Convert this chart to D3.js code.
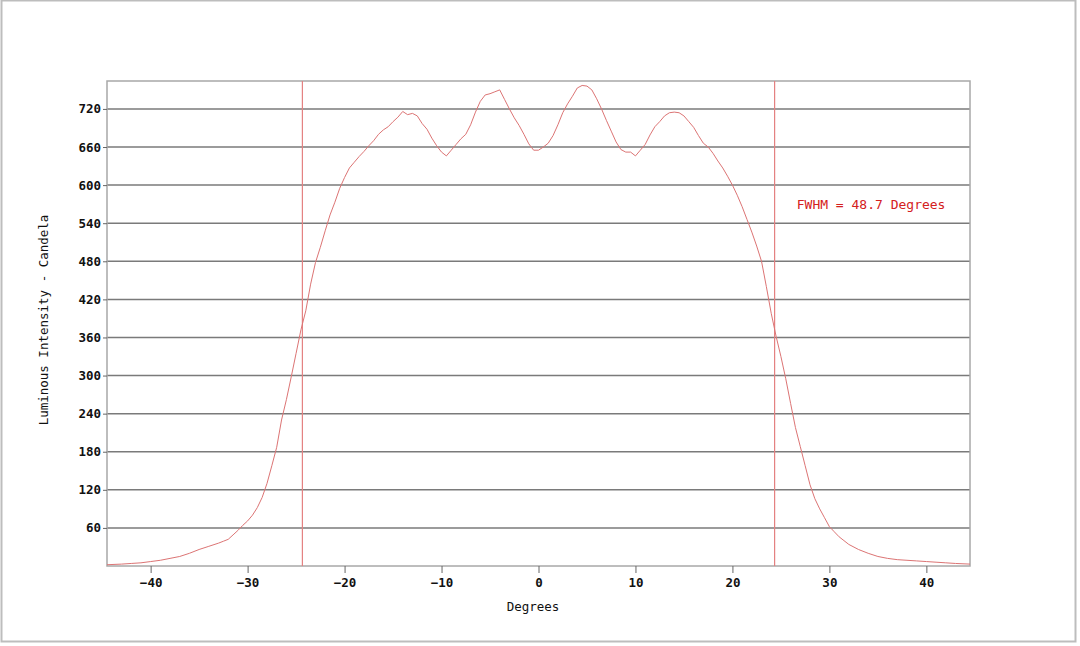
<!DOCTYPE html>
<html>
<head>
<meta charset="utf-8">
<script src="https://cdn.jsdelivr.net/npm/d3@7"></script>
<style>
  body { margin: 0; background: #fff; }
  svg { display: block; font-family: "DejaVu Sans Mono", monospace; }
</style>
</head>
<body>
<div id="chart"></div>
<script>
// Beam angle profile, luminous intensity vs. angle
var degrees = [-44.5, -43, -42, -41, -40, -39, -38, -37, -36, -35, -34, -33, -32.5, -32, -31.5, -31, -30.5, -30,
  -29.5, -29, -28.5, -28, -27.5, -27, -26.5, -26, -25.5, -25, -24.5, -24, -23.5, -23, -22.5, -22, -21.5, -21,
  -20.5, -20, -19.5, -19, -18.5, -18, -17.5, -17, -16.5, -16, -15.5, -15, -14.5, -14, -13.5, -13, -12.5, -12,
  -11.5, -11, -10.5, -10, -9.5, -9, -8.5, -8, -7.5, -7, -6.5, -6, -5.5, -5, -4.5, -4, -3.5, -3, -2.5, -2,
  -1.5, -1, -0.5, 0, 0.5, 1, 1.5, 2, 2.5, 3, 3.5, 4, 4.5, 5, 5.5, 6, 6.5, 7, 7.5, 8, 8.5, 9, 9.5, 10,
  10.5, 11, 11.5, 12, 12.5, 13, 13.5, 14, 14.5, 15, 15.5, 16, 16.5, 17, 17.5, 18, 18.5, 19, 19.5, 20,
  20.5, 21, 21.5, 22, 22.5, 23, 23.5, 24, 24.5, 25, 25.5, 26, 26.5, 27, 27.5, 28, 28.5, 29, 29.5, 30,
  30.5, 31, 31.5, 32, 33, 34, 35, 36, 37, 38, 39, 40, 41, 42, 43, 44.5];

var candela = [2, 3, 4, 5, 7, 9, 12, 15, 20, 26, 31, 36, 39, 42, 49, 56, 64, 71,
  80, 92, 108, 130, 158, 187, 230, 262, 298, 335, 372, 402, 444, 478, 502, 528, 553, 573,
  595, 612, 627, 636, 645, 653, 662, 670, 680, 687, 692, 700, 707, 716, 711, 713, 709, 697,
  688, 674, 662, 652, 646, 655, 664, 673, 680, 695, 715, 732, 742, 744, 747, 750, 735, 720, 706, 694,
  680, 665, 655, 655, 660, 666, 678, 695, 714, 728, 740, 753, 757, 756, 750, 736, 720, 702, 685, 668, 656, 652, 652, 646,
  655, 664, 679, 692, 700, 709, 714, 715, 714, 709, 700, 691, 678, 666, 660, 650, 638, 627, 614, 600,
  584, 566, 546, 526, 504, 480, 440, 398, 362, 330, 295, 256, 218, 188, 158, 128, 106, 90, 76, 62,
  54, 46, 40, 34, 26, 20, 15, 12, 10, 9, 8, 7, 6, 5, 4, 3];

var yTicks = [60, 120, 180, 240, 300, 360, 420, 480, 540, 600, 660, 720];
var xTicks = [-40, -30, -20, -10, 0, 10, 20, 30, 40];
var fwhmLines = [-24.35, 24.35];
var fwhmLabel = "FWHM = 48.7 Degrees";

var data = degrees.map(function(d, i) { return {deg: d, val: candela[i]}; });

var W = 1080, H = 646;
var margin = {top: 81, right: 110, bottom: 80, left: 107},
    width = W - margin.left - margin.right,
    height = H - margin.top - margin.bottom;

var svg = d3.select("#chart").append("svg")
    .attr("width", W)
    .attr("height", H);

// outer frame
svg.append("rect")
    .attr("x", 1.5).attr("y", 0.5)
    .attr("width", 1074).attr("height", 641)
    .attr("fill", "none")
    .attr("stroke", "#bdbdbd")
    .attr("stroke-width", 2);

var g = svg.append("g")
    .attr("transform", "translate(" + margin.left + "," + margin.top + ")");

var x = d3.scaleLinear().domain([-44.5, 44.5]).range([0, width]);
var y = d3.scaleLinear().domain([0, 764]).range([height, 0]);

// grid lines
g.append("g")
    .selectAll("line")
    .data(yTicks)
  .enter().append("line")
    .attr("x1", 0).attr("x2", width)
    .attr("y1", function(d) { return y(d); })
    .attr("y2", function(d) { return y(d); })
    .attr("stroke", "#7a7a7a")
    .attr("stroke-width", 1.5);

// plot frame
g.append("rect")
    .attr("width", width).attr("height", height)
    .attr("fill", "none")
    .attr("stroke", "#a8a8a8")
    .attr("stroke-width", 1.5);

var yAxis = d3.axisLeft(y).tickValues(yTicks).tickSize(4).tickPadding(2);
var xAxis = d3.axisBottom(x).tickValues(xTicks).tickSize(7).tickPadding(5);

var ya = g.append("g").call(yAxis);
var xa = g.append("g").attr("transform", "translate(0," + height + ")").call(xAxis);

[ya, xa].forEach(function(a) {
  a.select(".domain").remove();
  a.selectAll(".tick line").attr("stroke", "#666");
  a.selectAll(".tick text")
      .attr("fill", "#111")
      .style("font-family", "'DejaVu Sans Mono', monospace")
      .style("font-size", "12.5px")
      .style("font-weight", "bold");
});

// FWHM markers
g.selectAll(".fwhm")
    .data(fwhmLines)
  .enter().append("line")
    .attr("class", "fwhm")
    .attr("x1", function(d) { return x(d); })
    .attr("x2", function(d) { return x(d); })
    .attr("y1", 0).attr("y2", height)
    .attr("stroke", "#e48080")
    .attr("stroke-width", 1.2);

var line = d3.line()
    .x(function(d) { return x(d.deg); })
    .y(function(d) { return y(d.val); });

g.append("path")
    .datum(data)
    .attr("fill", "none")
    .attr("stroke", "#dc7474")
    .attr("stroke-width", 1)
    .attr("d", line);

g.append("text")
    .attr("x", x(34.3))
    .attr("y", y(570))
    .attr("dy", "0.35em")
    .attr("text-anchor", "middle")
    .attr("fill", "#d42020")
    .style("font-size", "13px")
    .text(fwhmLabel);

// axis titles
svg.append("text")
    .attr("x", 533)
    .attr("y", 607)
    .attr("dy", "0.35em")
    .attr("text-anchor", "middle")
    .attr("fill", "#111")
    .style("font-size", "12.5px")
    .text("Degrees");

svg.append("text")
    .attr("transform", "translate(44," + 320 + ") rotate(-90)")
    .attr("dy", "0.35em")
    .attr("text-anchor", "middle")
    .attr("fill", "#111")
    .style("font-size", "12.5px")
    .text("Luminous Intensity - Candela");
</script>
</body>
</html>
